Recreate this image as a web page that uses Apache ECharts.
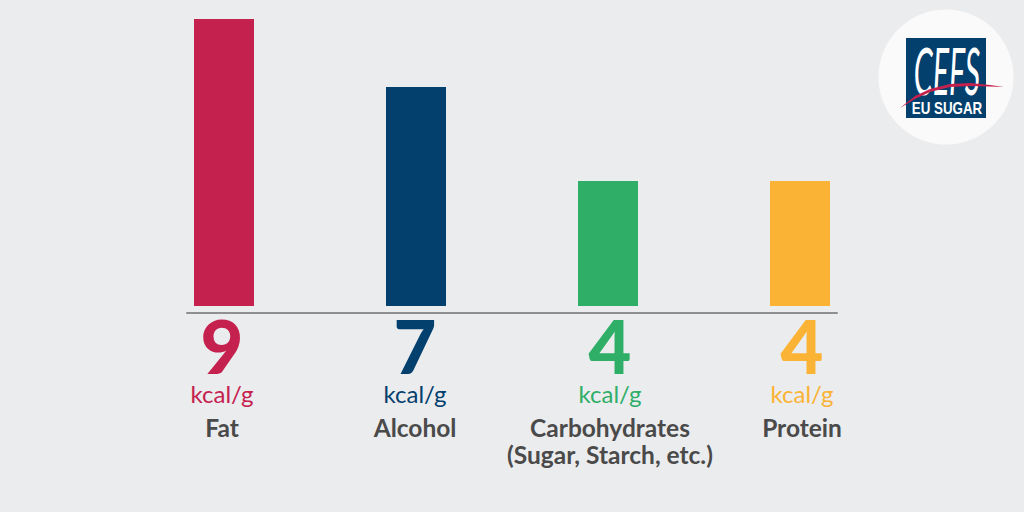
<!DOCTYPE html>
<html>
<head>
<meta charset="utf-8">
<style>
  html, body { margin: 0; padding: 0; background: #ebecee; }
  #chart { width: 1024px; height: 512px; }
</style>
<script src="https://cdn.jsdelivr.net/npm/echarts@6/dist/echarts.min.js"></script>
</head>
<body>
<div id="chart"></div>
<script>
// bar heights, the printed figures are a bit rounder
var categories = ['Fat', 'Alcohol', 'Carbohydrates\n(Sugar, Starch, etc.)', 'Protein'];
var barValues = [9, 6.87, 3.92, 3.92];
var kcalLabels = ['9', '7', '4', '4'];
var unitLabel = 'kcal/g';
var barColors = ['#c5214f', '#03406e', '#2fae68', '#fbb335'];

var font = 'Lato, "Open Sans", sans-serif';
var grey = '#4a4a4a';
// the labels are not quite centred under their bars in the original: [right, left] padding
var labelPad = [[0, 4, 0, 0], [0, 2, 0, 0], [0, 0, 0, 4], [0, 0, 0, 4]];

// one rich style set per bar, since number and unit take the bar's colour
var rich = {};
barColors.forEach(function(color, i) {
  rich['num' + i] = { fontFamily: font, fontSize: 74, fontWeight: 900, color: color, lineHeight: 54, align: 'center', padding: labelPad[i] };
  rich['unit' + i] = { fontFamily: font, fontSize: 24, color: color, lineHeight: 42, align: 'center', padding: labelPad[i] };
  rich['name' + i] = { fontFamily: font, fontSize: 24.5, fontWeight: 'bold', color: grey, lineHeight: 27, align: 'center', padding: labelPad[i] };
});

var chart = echarts.init(document.getElementById('chart'), null, { renderer: 'svg' });
chart.setOption({
  animation: false,
  backgroundColor: '#ebecee',
  grid: [
    { left: 128, width: 768, top: 19, height: 294 },
    // short grid, only there for the baseline
    { left: 187, width: 650, top: 19, height: 294 }
  ],
  xAxis: [
    {
      type: 'category',
      data: categories,
      axisLine: { show: false },
      axisTick: { show: false },
      axisLabel: {
        interval: 0,
        margin: 5,
        verticalAlign: 'top',
        formatter: function(value, i) {
          var lines = value.split('\n').map(function(s) { return '{name' + i + '|' + s + '}'; });
          return ['{num' + i + '|' + kcalLabels[i] + '}', '{unit' + i + '|' + unitLabel + '}'].concat(lines).join('\n');
        },
        rich: rich
      }
    },
    {
      type: 'value',
      gridIndex: 1,
      min: 0,
      max: 1,
      axisLine: { onZero: false, lineStyle: { color: '#8f8f8f', width: 2 } },
      axisTick: { show: false },
      axisLabel: { show: false },
      splitLine: { show: false }
    }
  ],
  yAxis: [
    { type: 'value', min: -0.22, max: 9, show: false },
    { type: 'value', gridIndex: 1, min: 0, max: 1, show: false }
  ],
  series: [{
    type: 'bar',
    data: barValues.map(function(v, i) { return { value: v, itemStyle: { color: barColors[i] } }; }),
    barWidth: 60,
    silent: true
  }],
  graphic: [
    { type: 'circle', shape: { cx: 946, cy: 77, r: 67.5 }, style: { fill: '#fafafa' }, silent: true },
    { type: 'rect', shape: { x: 906, y: 38, width: 80, height: 80 }, style: { fill: '#03406e' }, silent: true },
    {
      type: 'text', x: 947, y: 69, scaleX: 0.76, scaleY: 1.65,
      style: { text: 'CEFS', fill: '#ffffff', font: 'italic 400 40px Lato', align: 'center', verticalAlign: 'middle' },
      silent: true
    },
    {
      type: 'polygon',
      shape: { points: [[900, 108], [915, 96], [930, 89], [950, 84], [970, 83], [990, 85], [1004, 87], [990, 86.5], [970, 86], [950, 87], [930, 92], [915, 99]] },
      style: { fill: '#c5214f' },
      silent: true
    },
    {
      type: 'text', x: 947, y: 108, scaleX: 0.81,
      style: { text: 'EU SUGAR', fill: '#ffffff', font: 'bold 16.5px "Liberation Sans"', align: 'center', verticalAlign: 'middle' },
      silent: true
    }
  ]
});
window.addEventListener('resize', function() { chart.resize(); });
</script>
</body>
</html>
